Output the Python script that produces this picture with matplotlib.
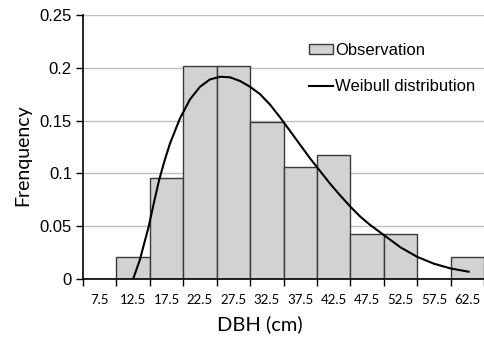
import matplotlib
matplotlib.use('Agg')
import matplotlib.pyplot as plt
from matplotlib.patches import Patch
from matplotlib.lines import Line2D

# DBH class midpoints (cm) and observed relative frequency
dbh_classes = [7.5, 12.5, 17.5, 22.5, 27.5, 32.5, 37.5, 42.5, 47.5, 52.5, 57.5, 62.5]
observed = [0.0, 0.0213, 0.0957, 0.2021, 0.2021, 0.1489, 0.1064, 0.1170,
            0.0426, 0.0426, 0.0, 0.0213]

# fitted Weibull curve
weibull_x = [12.5, 13.5, 14.8, 15.6, 16.4, 17.2, 18.0, 19.5, 21.0, 22.5,
             24.0, 25.5, 27.0, 28.5, 30.0, 31.5, 33.0, 34.5, 36.0, 37.5,
             39.0, 40.5, 42.0, 43.5, 45.0, 46.5, 48.0, 50.0, 52.5, 55.0,
             57.5, 60.0, 62.7]
weibull_y = [0.0, 0.018, 0.049, 0.072, 0.094, 0.112, 0.128, 0.152, 0.170,
             0.182, 0.189, 0.1915, 0.1910, 0.1875, 0.182, 0.175, 0.165,
             0.153, 0.140, 0.127, 0.114, 0.102, 0.090, 0.079, 0.0685, 0.059,
             0.051, 0.0417, 0.030, 0.021, 0.0145, 0.0100, 0.0069]

y_ticks = [0, 0.05, 0.1, 0.15, 0.2, 0.25]
y_tick_labels = ['0', '0.05', '0.1', '0.15', '0.2', '0.25']

fig = plt.figure(figsize=(4.84, 3.37), dpi=100)
ax = fig.add_axes([83 / 484, 1 - 279 / 337, 1 - 83 / 484, (279 - 15) / 337])

ax.bar(dbh_classes, observed, width=5, color='#d1d2d4', edgecolor='#3a3a3a',
       linewidth=1.0, zorder=2)
ax.plot(weibull_x, weibull_y, color='black', linewidth=1.5, zorder=3,
        solid_joinstyle='round')

ax.set_xlim(5, 65)
ax.set_ylim(0, 0.25)

ax.set_yticks(y_ticks)
ax.set_yticklabels(y_tick_labels, family='Liberation Sans', fontsize=12)
ax.yaxis.grid(True, color='#c0c0c0', linewidth=1.0, zorder=0)
ax.set_axisbelow(True)

# ticks on class boundaries, labels on class midpoints
ax.set_xticks([5 + 5 * i for i in range(13)])
ax.set_xticklabels([])
ax.set_xticks(dbh_classes, minor=True)
ax.set_xticklabels([str(v) for v in dbh_classes], minor=True,
                   family='Lato', fontsize=9.5)
ax.tick_params(axis='x', which='minor', length=0, pad=10.5)
ax.tick_params(axis='x', which='major', length=5, width=1, direction='out')
ax.tick_params(axis='y', length=5, width=1, direction='out', pad=3)

for side in ['top', 'right']:
    ax.spines[side].set_visible(False)
for side in ['left', 'bottom']:
    ax.spines[side].set_linewidth(1.2)
    ax.spines[side].set_color('black')

ax.set_xlabel('DBH (cm)', family='Lato', fontsize=14.5)
ax.xaxis.set_label_coords((260 - 83) / 401, -(333 - 279) / 264, transform=ax.transAxes)
ax.xaxis.label.set_va('bottom')
ax.set_ylabel('Frenquency', family='Lato', fontsize=14)
ax.yaxis.set_label_coords(-(83 - 14) / 401, (279 - 155) / 264, transform=ax.transAxes)
ax.yaxis.label.set_va('top')

handles = [Patch(facecolor='#d1d2d4', edgecolor='#3a3a3a', linewidth=1.0),
           Line2D([], [], color='black', linewidth=1.5)]
ax.legend(handles, ['Observation', 'Weibull distribution'],
          loc='upper left', bbox_to_anchor=(0.548, 0.92), frameon=False,
          prop={'family': 'Liberation Sans', 'size': 12},
          handlelength=1.4, handleheight=0.6, handletextpad=0.15,
          labelspacing=1.3, borderaxespad=0)

fig.savefig('out.png', dpi=100)
